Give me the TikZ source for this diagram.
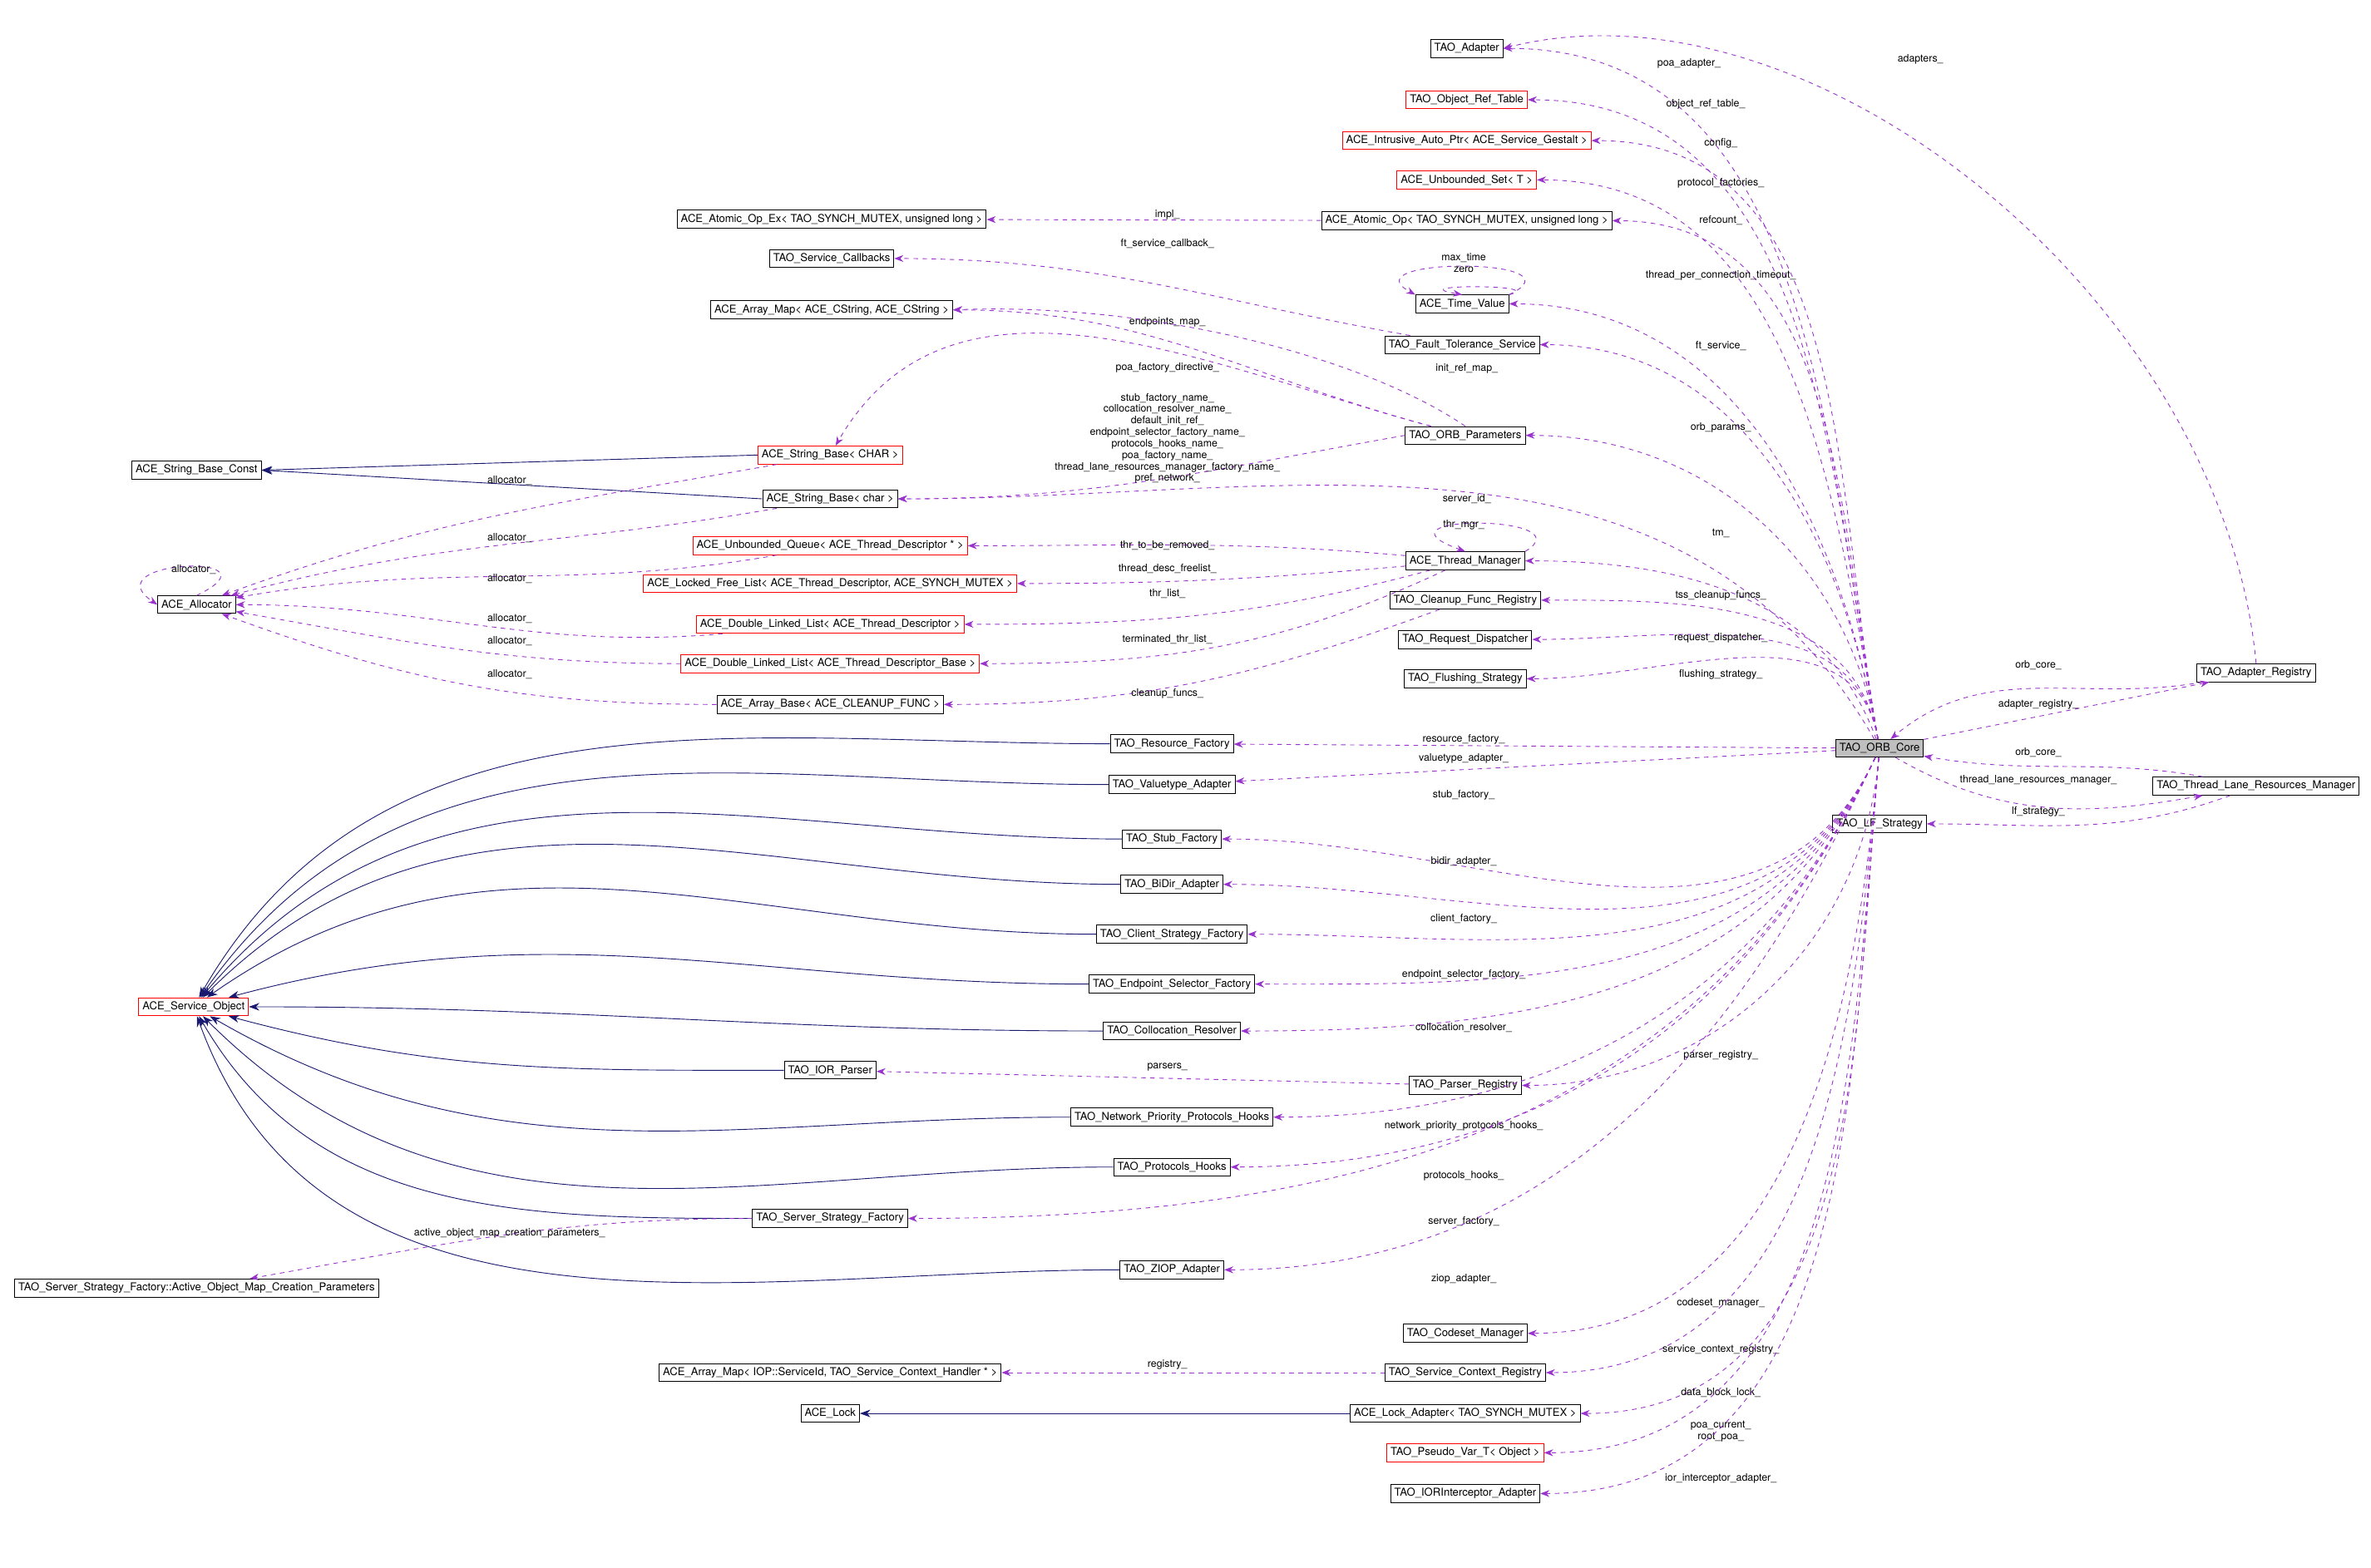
\documentclass[tikz,border=0pt]{standalone}
\usepackage{fontspec}
\setmainfont{TeX Gyre Heros}
\usetikzlibrary{arrows.meta}
\definecolor{usecol}{HTML}{9A32CD}
\definecolor{inhcol}{HTML}{191970}
\tikzset{
  cls/.style={draw=black,line width=0.5pt,inner sep=2.5pt,minimum height=11pt,font=\fontsize{7.2}{7.5}\selectfont},
  redcls/.style={cls,draw=red},
  uses/.style={draw=usecol,dashed,line width=0.5pt,-{Stealth[length=6pt,width=4.5pt]}},
  inh/.style={draw=inhcol,line width=0.5pt,-{Stealth[length=7pt,width=5pt]}},
  lbl/.style={inner sep=0.5pt,align=center,font=\fontsize{6.8}{7.6}\selectfont},
  up/.style={out=100,in=0},
  dn/.style={out=-115,in=0},
  dnr/.style={out=-95,in=0}
}
% dashed usage edge and its label
\newcommand\uses[5][]{%
  \draw[uses] (#2) to[#1] (#3);
  \node[lbl] at (#5) {#4};}
\begin{document}
\begin{tikzpicture}[x=1pt,y=-1pt]
  \useasboundingbox (0,0) rectangle (1568,1037);
  % classes
  \node[cls] (ta) at (970,32) {TAO\_Adapter};
  \node[redcls] (ort) at (970,66) {TAO\_Object\_Ref\_Table};
  \node[redcls] (iap) at (970,93) {ACE\_Intrusive\_Auto\_Ptr< ACE\_Service\_Gestalt >};
  \node[redcls] (us) at (970,119) {ACE\_Unbounded\_Set< T >};
  \node[cls] (aoe) at (550,145) {ACE\_Atomic\_Op\_Ex< TAO\_SYNCH\_MUTEX, unsigned long >};
  \node[cls] (ao) at (970,146) {ACE\_Atomic\_Op< TAO\_SYNCH\_MUTEX, unsigned long >};
  \node[cls] (sc) at (550,171) {TAO\_Service\_Callbacks};
  \node[cls] (tv) at (967,201) {ACE\_Time\_Value};
  \node[cls] (amc) at (550,205) {ACE\_Array\_Map< ACE\_CString, ACE\_CString >};
  \node[cls] (ft) at (967,228) {TAO\_Fault\_Tolerance\_Service};
  \node[cls] (op) at (969,288) {TAO\_ORB\_Parameters};
  \node[redcls] (sbC) at (549,301) {ACE\_String\_Base< CHAR >};
  \node[cls] (sbk) at (130,311) {ACE\_String\_Base\_Const};
  \node[cls] (sbc) at (549,330) {ACE\_String\_Base< char >};
  \node[redcls] (uq) at (549,361) {ACE\_Unbounded\_Queue< ACE\_Thread\_Descriptor * >};
  \node[cls] (tm) at (969,371) {ACE\_Thread\_Manager};
  \node[redcls] (lfl) at (549,386) {ACE\_Locked\_Free\_List< ACE\_Thread\_Descriptor, ACE\_SYNCH\_MUTEX >};
  \node[cls] (al) at (130,400) {ACE\_Allocator};
  \node[cls] (cfr) at (969,397) {TAO\_Cleanup\_Func\_Registry};
  \node[redcls] (dll) at (549,413) {ACE\_Double\_Linked\_List< ACE\_Thread\_Descriptor >};
  \node[cls] (rd) at (969,423) {TAO\_Request\_Dispatcher};
  \node[redcls] (dlb) at (549,439) {ACE\_Double\_Linked\_List< ACE\_Thread\_Descriptor\_Base >};
  \node[cls] (fs) at (969,449) {TAO\_Flushing\_Strategy};
  \node[cls] (ar) at (1492,445) {TAO\_Adapter\_Registry};
  \node[cls] (ab) at (549,466) {ACE\_Array\_Base< ACE\_CLEANUP\_FUNC >};
  \node[cls] (rf) at (775,492) {TAO\_Resource\_Factory};
  \node[cls,fill=black!25] (oc) at (1243,495) {TAO\_ORB\_Core};
  \node[cls] (va) at (775,519) {TAO\_Valuetype\_Adapter};
  \node[cls] (tl) at (1492,520) {TAO\_Thread\_Lane\_Resources\_Manager};
  \node[cls] (lf) at (1243,545) {TAO\_LF\_Strategy};
  \node[cls] (sf) at (775,555) {TAO\_Stub\_Factory};
  \node[cls] (bd) at (775,585) {TAO\_BiDir\_Adapter};
  \node[cls] (cs) at (775,618) {TAO\_Client\_Strategy\_Factory};
  \node[redcls] (so) at (128,666) {ACE\_Service\_Object};
  \node[cls] (es) at (775,651) {TAO\_Endpoint\_Selector\_Factory};
  \node[cls] (cr) at (775,682) {TAO\_Collocation\_Resolver};
  \node[cls] (ip) at (549,708) {TAO\_IOR\_Parser};
  \node[cls] (pr) at (969,718) {TAO\_Parser\_Registry};
  \node[cls] (np) at (775,739) {TAO\_Network\_Priority\_Protocols\_Hooks};
  \node[cls] (ph) at (775,772) {TAO\_Protocols\_Hooks};
  \node[cls] (ss) at (549,806) {TAO\_Server\_Strategy\_Factory};
  \node[cls] (aom) at (130,852) {TAO\_Server\_Strategy\_Factory::Active\_Object\_Map\_Creation\_Parameters};
  \node[cls] (zi) at (775,840) {TAO\_ZIOP\_Adapter};
  \node[cls] (cm) at (969,882) {TAO\_Codeset\_Manager};
  \node[cls] (ami) at (549,908) {ACE\_Array\_Map< IOP::ServiceId, TAO\_Service\_Context\_Handler * >};
  \node[cls] (scr) at (969,908) {TAO\_Service\_Context\_Registry};
  \node[cls] (lk) at (549,935) {ACE\_Lock};
  \node[cls] (la) at (969,935) {ACE\_Lock\_Adapter< TAO\_SYNCH\_MUTEX >};
  \node[redcls] (pv) at (969,961) {TAO\_Pseudo\_Var\_T< Object >};
  \node[cls] (ia) at (969,988) {TAO\_IORInterceptor\_Adapter};
  % inheritance
  \draw[inh] (sbC.west) -- (sbk.east);
  \draw[inh] (sbc.west) -- (sbk.east);
  \draw[inh] (la.west) -- (lk.east);
  \foreach \d/\a in {rf/60,va/55,sf/50,bd/45,cs/35,es/15,cr/0,ip/-15,np/-30,ph/-45,ss/-60,zi/-70}
    \draw[inh] (\d.west) to[out=180,in=\a] (so);
  % usage
  \draw[uses] (ar.north) .. controls (1470,200) and (1200,-20) .. (ta.east);
  \node[lbl] at (1270,39) {adapters\_};
  \uses[up]{oc}{ta}{poa\_adapter\_}{1117,42}
  \uses[up]{oc}{ort}{object\_ref\_table\_}{1128,69}
  \uses[up]{oc}{iap}{config\_}{1138,95}
  \uses[up]{oc}{us}{protocol\_factories\_}{1138,121}
  \uses[up]{oc}{ao}{refcount\_}{1138,146}
  \uses{ao}{aoe}{impl\_}{772,142}
  \uses[out=170,in=0]{ft}{sc}{ft\_service\_callback\_}{772,161}
  \draw[uses] (tv.north east) .. controls (1050,170) and (890,170) .. (tv.north west);
  \draw[uses] (tv.north east) .. controls (1025,188) and (925,188) .. (tv.north);
  \node[lbl] at (968,174) {max\_time\\zero};
  \uses[up]{oc}{tv}{thread\_per\_connection\_timeout\_}{1138,182}
  \uses[out=165,in=0]{op}{amc}{endpoints\_map\_}{772,213}
  \draw[uses] (op.north) .. controls (900,235) and (760,200) .. (amc.east);
  \node[lbl] at (970,244) {init\_ref\_map\_};
  \uses[up]{oc}{ft}{ft\_service\_}{1138,229}
  \uses[out=165,in=60]{op}{sbC}{poa\_factory\_directive\_}{772,243}
  \draw[uses] (op.west) to[out=190,in=0] (sbc.east);
  \node[lbl] at (772,290) {stub\_factory\_name\_\\collocation\_resolver\_name\_\\default\_init\_ref\_\\endpoint\_selector\_factory\_name\_\\protocols\_hooks\_name\_\\poa\_factory\_name\_\\thread\_lane\_resources\_manager\_factory\_name\_\\pref\_network\_};
  \uses[up]{oc}{op}{orb\_params\_}{1138,283}
  \uses[out=120,in=0]{oc}{sbc}{server\_id\_}{970,330}
  \uses[out=190,in=20]{sbC}{al}{allocator\_}{337,318}
  \uses[out=190,in=15]{sbc}{al}{allocator\_}{337,356}
  \draw[uses] (al.north) .. controls (190,365) and (60,370) .. (al.west);
  \node[lbl] at (128,377) {allocator\_};
  \uses[out=190,in=10]{uq}{al}{allocator\_}{337,383}
  \uses[out=185,in=0]{dll}{al}{allocator\_}{337,409}
  \uses[out=180,in=-10]{dlb}{al}{allocator\_}{337,424}
  \uses[out=180,in=-20]{ab}{al}{allocator\_}{337,446}
  \draw[uses] (tm.north east) .. controls (1050,340) and (900,340) .. (tm.north);
  \node[lbl] at (968,347) {thr\_mgr\_};
  \uses[out=110,in=0]{oc}{tm}{tm\_}{1138,353}
  \uses[out=175,in=0]{tm}{uq}{thr\_to\_be\_removed\_}{772,361}
  \uses[out=185,in=0]{tm}{lfl}{thread\_desc\_freelist\_}{772,376}
  \uses[out=195,in=0]{tm}{dll}{thr\_list\_}{772,393}
  \uses[out=205,in=0]{tm}{dlb}{terminated\_thr\_list\_}{772,423}
  \uses[out=200,in=0]{cfr}{ab}{cleanup\_funcs\_}{772,459}
  \uses[up]{oc}{cfr}{tss\_cleanup\_funcs\_}{1138,394}
  \uses[up]{oc}{rd}{request\_dispatcher\_}{1138,422}
  \uses[up]{oc}{fs}{flushing\_strategy\_}{1138,446}
  \uses[out=190,in=40]{ar}{oc}{orb\_core\_}{1348,440}
  \uses{oc}{ar}{adapter\_registry\_}{1348,466}
  \uses{oc}{rf}{resource\_factory\_}{968,489}
  \uses{oc}{va}{valuetype\_adapter\_}{968,502}
  \uses[out=170,in=-10]{tl}{oc}{orb\_core\_}{1348,498}
  \uses[out=-30,in=190]{oc}{tl}{thread\_lane\_resources\_manager\_}{1348,516}
  \uses[out=200,in=0]{tl}{lf}{lf\_strategy\_}{1348,537}
  \uses[dn]{oc}{sf}{stub\_factory\_}{968,526}
  \uses[dn]{oc}{bd}{bidir\_adapter\_}{968,570}
  \uses[dn]{oc}{cs}{client\_factory\_}{968,608}
  \uses[dn]{oc}{es}{endpoint\_selector\_factory\_}{968,645}
  \uses[dn]{oc}{cr}{collocation\_resolver\_}{968,680}
  \uses[dnr]{oc}{pr}{parser\_registry\_}{1138,698}
  \uses{pr}{ip}{parsers\_}{772,706}
  \uses[dn]{oc}{np}{network\_priority\_protocols\_hooks\_}{968,745}
  \uses[dn]{oc}{ph}{protocols\_hooks\_}{968,778}
  \uses[dn]{oc}{ss}{server\_factory\_}{968,808}
  \uses[out=180,in=10]{ss}{aom}{active\_object\_map\_creation\_parameters\_}{337,816}
  \uses[dn]{oc}{zi}{ziop\_adapter\_}{968,846}
  \uses[dnr]{oc}{cm}{codeset\_manager\_}{1138,862}
  \uses[dnr]{oc}{scr}{service\_context\_registry\_}{1138,893}
  \uses{scr}{ami}{registry\_}{772,903}
  \uses[dnr]{oc}{la}{data\_block\_lock\_}{1138,921}
  \uses[dnr]{oc}{pv}{poa\_current\_\\root\_poa\_}{1138,947}
  \uses[dnr]{oc}{ia}{ior\_interceptor\_adapter\_}{1138,978}
\end{tikzpicture}
\end{document}
